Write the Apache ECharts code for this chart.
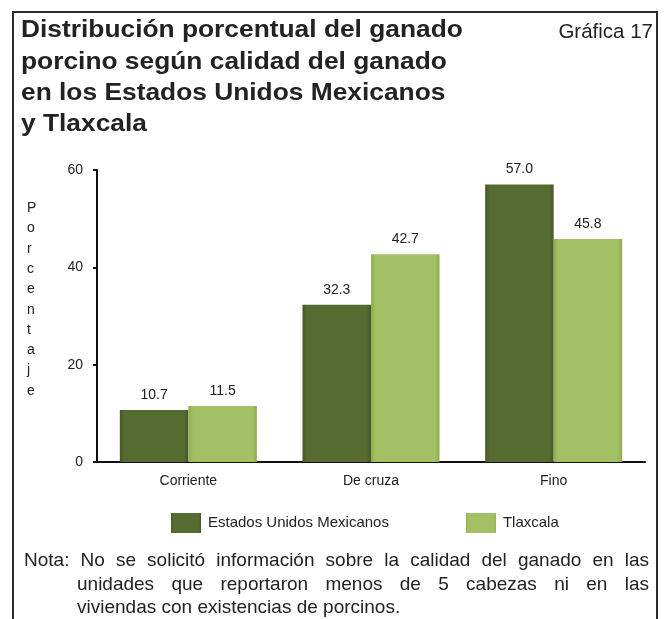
<!DOCTYPE html>
<html>
<head>
<meta charset="utf-8">
<script src="https://cdn.jsdelivr.net/npm/echarts@6/dist/echarts.min.js"></script>
<style>
  html, body { margin: 0; padding: 0; background: #fff; }
  #chart { width: 668px; height: 619px; }
</style>
</head>
<body>
<div id="chart"></div>
<script>
// Calidad del ganado porcino (porcentaje)
const categories = ['Corriente', 'De cruza', 'Fino'];
const nacional = [10.7, 32.3, 57.0];
const tlaxcala = [11.5, 42.7, 45.8];
const seriesNames = ['Estados Unidos Mexicanos', 'Tlaxcala'];
const yTicks = { min: 0, max: 60, interval: 20 };

const titleLines = [
  'Distribución porcentual del ganado',
  'porcino según calidad del ganado',
  'en los Estados Unidos Mexicanos',
  'y Tlaxcala'
];
const chartNumber = 'Gráfica 17';
const axisName = 'Porcentaje';
const noteLines = [
  'Nota: No se solicitó información sobre la calidad del ganado en las',
  'unidades que reportaron menos de 5 cabezas ni en las',
  'viviendas con existencias de porcinos.'
];

const FONT = 'Arial, Helvetica, sans-serif';

function bevel(edge, mid) {
  return {
    type: 'linear', x: 0, y: 0, x2: 1, y2: 0,
    colorStops: [
      { offset: 0, color: edge },
      { offset: 0.07, color: mid },
      { offset: 0.93, color: mid },
      { offset: 1, color: edge }
    ]
  };
}

// Justified note text: words are spread across each line's width
const measureCtx = document.createElement('canvas').getContext('2d');
const noteFont = '19px ' + FONT;
measureCtx.font = noteFont;
function justifiedLine(text, x0, x1, y, justify) {
  const words = text.split(' ');
  const widths = words.map(w => measureCtx.measureText(w).width);
  const total = widths.reduce((a, b) => a + b, 0);
  const gap = justify && words.length > 1
    ? (x1 - x0 - total) / (words.length - 1)
    : measureCtx.measureText(' ').width;
  let x = x0;
  return words.map((w, i) => {
    const el = {
      type: 'text', x: x, y: y,
      style: { text: w, font: noteFont, fill: '#222', align: 'left', verticalAlign: 'middle' }
    };
    x += widths[i] + gap;
    return el;
  });
}

const graphics = [];
// frame
graphics.push({
  type: 'rect', shape: { x: 13, y: 12, width: 644, height: 640 },
  style: { fill: 'none', stroke: '#2b2b2b', lineWidth: 2 }, silent: true
});
titleLines.forEach((t, i) => {
  graphics.push({
    type: 'text', x: 21, y: 31 + i * 31.3, scaleX: 1.145,
    style: { text: t, font: 'bold 23px ' + FONT, fill: '#222', align: 'left', verticalAlign: 'middle' }
  });
});
graphics.push({
  type: 'text', x: 653, y: 32,
  style: { text: chartNumber, font: '20.5px ' + FONT, fill: '#222', align: 'right', verticalAlign: 'middle' }
});
graphics.push({
  type: 'text', left: 27, top: 198,
  style: {
    text: axisName.split('').join('\n'),
    font: '14px ' + FONT, fill: '#222', lineHeight: 20.3, align: 'center'
  }
});
noteLines.forEach((line, i) => {
  const x0 = i === 0 ? 24 : 77;
  const just = i < 2;
  graphics.push(...justifiedLine(line, x0, 649, 561 + i * 23.3, just));
});

const chart = echarts.init(document.getElementById('chart'), null, { renderer: 'canvas' });
chart.setOption({
  animation: false,
  backgroundColor: '#fff',
  textStyle: { fontFamily: FONT },
  grid: { left: 97, right: 23, top: 170, bottom: 157, containLabel: false },
  legend: {
    left: 171, top: 513, padding: 0,
    itemWidth: 30, itemHeight: 20, itemGap: 77,
    icon: 'rect',
    textStyle: { fontSize: 15, color: '#222', fontFamily: FONT, padding: [0, 0, 0, 2] },
    data: seriesNames
  },
  xAxis: {
    type: 'category', data: categories,
    axisLine: { lineStyle: { color: '#111', width: 2 } },
    axisTick: { show: false },
    axisLabel: { fontSize: 14, color: '#222', margin: 12, fontFamily: FONT }
  },
  yAxis: {
    type: 'value', min: yTicks.min, max: yTicks.max, interval: yTicks.interval,
    axisLine: { show: true, lineStyle: { color: '#111', width: 2 } },
    axisTick: { show: true, length: 4, lineStyle: { color: '#111', width: 2 } },
    axisLabel: { fontSize: 14, color: '#222', margin: 14, fontFamily: FONT },
    splitLine: { show: false }
  },
  series: [
    {
      name: seriesNames[0], type: 'bar', data: nacional,
      barGap: '0%', barCategoryGap: '25%',
      itemStyle: { color: bevel('#45582a', '#566b30') },
      label: { show: true, position: 'top', distance: 8, fontSize: 14, color: '#222',
               fontFamily: FONT, formatter: p => p.value.toFixed(1) }
    },
    {
      name: seriesNames[1], type: 'bar', data: tlaxcala,
      barGap: '0%', barCategoryGap: '25%',
      itemStyle: { color: bevel('#8eab52', '#a3c164') },
      label: { show: true, position: 'top', distance: 8, fontSize: 14, color: '#222',
               fontFamily: FONT, formatter: p => p.value.toFixed(1) }
    }
  ],
  graphic: graphics
});
</script>
</body>
</html>
